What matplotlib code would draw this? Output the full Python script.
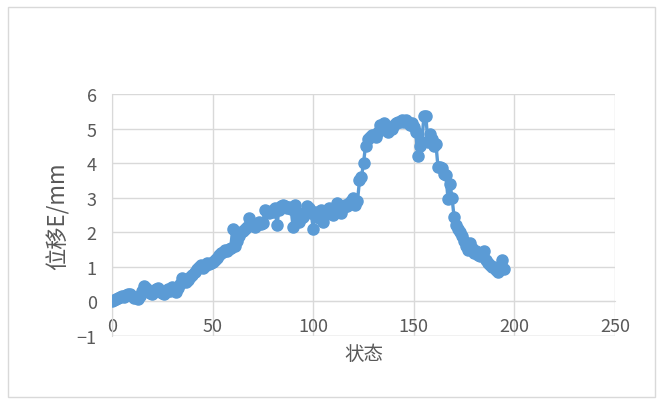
import matplotlib.pyplot as plt
from matplotlib.patches import Rectangle
import numpy as np

plt.rcParams['font.family'] = ['Noto Sans CJK SC', 'DejaVu Sans']

# displacement readings per state
displacement = [
    0.00, 0.05, 0.08, 0.10, 0.12, 0.15, 0.13, 0.18, 0.20, 0.22,
    0.15, 0.10, 0.12, 0.08, 0.15, 0.30, 0.45, 0.38, 0.30, 0.25,
    0.22, 0.28, 0.35, 0.38, 0.30, 0.25, 0.20, 0.28, 0.35, 0.30,
    0.42, 0.35, 0.28, 0.38, 0.50, 0.68, 0.60, 0.55, 0.62, 0.70,
    0.75, 0.85, 0.95, 1.00, 1.05, 0.98, 1.02, 1.10, 1.08, 1.12,
    1.15, 1.20, 1.25, 1.35, 1.40, 1.42, 1.50, 1.45, 1.52, 1.55,
    2.10, 1.60, 1.75, 1.90, 2.00, 2.05, 2.10, 2.15, 2.40, 2.20,
    2.25, 2.15, 2.20, 2.30, 2.25, 2.28, 2.65, 2.60, 2.55, 2.62,
    2.60, 2.70, 2.22, 2.65, 2.75, 2.80, 2.75, 2.70, 2.72, 2.68,
    2.15, 2.80, 2.55, 2.30, 2.40, 2.45, 2.60, 2.75, 2.70, 2.55,
    2.10, 2.60, 2.55, 2.40, 2.65, 2.30, 2.50, 2.62, 2.70, 2.55,
    2.50, 2.65, 2.85, 2.60, 2.55, 2.70, 2.80, 2.75, 2.85, 2.90,
    3.00, 2.80, 2.90, 3.50, 3.60, 4.00, 4.50, 4.70, 4.75, 4.80,
    4.80, 4.75, 4.90, 5.10, 5.00, 5.15, 4.95, 4.90, 5.05, 5.00,
    5.10, 5.15, 5.20, 5.20, 5.25, 5.18, 5.25, 5.20, 5.10, 5.15,
    5.05, 4.90, 4.20, 4.50, 4.60, 5.35, 5.35, 4.60, 4.85, 4.70,
    4.50, 4.55, 3.90, 3.90, 3.85, 3.70, 3.65, 2.95, 3.40, 3.00,
    2.45, 2.20, 2.10, 2.00, 1.90, 1.75, 1.60, 1.50, 1.70, 1.55,
    1.40, 1.45, 1.35, 1.30, 1.40, 1.45, 1.20, 1.10, 1.05, 1.00,
    1.00, 0.90, 0.85, 0.95, 1.20, 0.95,
]
states = np.arange(len(displacement))

x_ticks = [0, 50, 100, 150, 200, 250]
y_ticks = [-1, 0, 1, 2, 3, 4, 5, 6]

blue = '#5B9BD5'
grid_col = '#D9D9D9'
text_col = '#595959'

fig = plt.figure(figsize=(6.64, 4.06), dpi=100)
ax = fig.add_axes([0.1687, 0.170, 0.7575, 0.596])

# outer chart border
fig.patches.append(Rectangle((8 / 664, 8 / 406), 647 / 664, 390 / 406,
                             transform=fig.transFigure, fill=False,
                             edgecolor=grid_col, linewidth=1))

ax.plot(states, displacement, color=blue, linewidth=2.4, marker='o',
        markersize=8, markerfacecolor=blue, markeredgecolor=blue, zorder=3)

ax.set_xlim(0, 250)
ax.set_ylim(-1, 6)
ax.set_xticks(x_ticks)
ax.set_yticks(y_ticks)
ax.grid(True, color=grid_col, linewidth=1)
ax.set_axisbelow(True)

for side in ['top', 'right']:
    ax.spines[side].set_visible(False)
ax.spines['bottom'].set_position(('data', 0))
ax.spines['bottom'].set_color(grid_col)
ax.spines['left'].set_color(grid_col)
ax.axhline(-1, color=grid_col, linewidth=1, zorder=0)

ax.tick_params(axis='both', length=0, labelcolor=text_col, labelsize=13)
ax.tick_params(axis='x', pad=11)
ax.tick_params(axis='y', pad=11)

ax.set_xlabel('状态', fontsize=14, color=text_col)
ax.xaxis.set_label_coords(0.5, -0.03)
ax.set_ylabel('位移E/mm', fontsize=16, color=text_col)
ax.yaxis.set_label_coords(-0.085, 0.5)

fig.savefig('out.png', dpi=100)
